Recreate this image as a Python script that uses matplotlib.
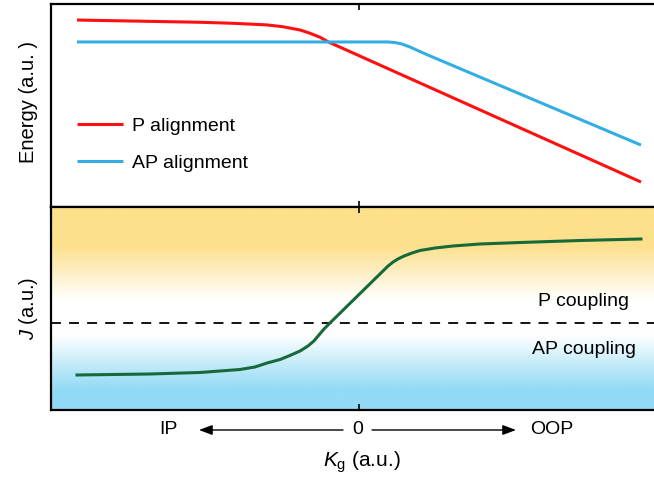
import numpy as np
import matplotlib
matplotlib.use("Agg")
import matplotlib.pyplot as plt
from matplotlib.colors import LinearSegmentedColormap

plt.rcParams['font.family'] = ['Liberation Sans', 'DejaVu Sans']
plt.rcParams['mathtext.fontset'] = 'custom'
plt.rcParams['mathtext.rm'] = 'Liberation Sans'
plt.rcParams['mathtext.it'] = 'Liberation Sans:italic'

# Energy of the two alignments versus Kg
kg_p = [-1.000, -0.801, -0.564, -0.447, -0.326, -0.270, -0.209, -0.174,
        -0.138, -0.110, 1.000]
energy_p = [0.921, 0.916, 0.910, 0.905, 0.897, 0.888, 0.872, 0.856,
            0.836, 0.814, 0.123]
kg_ap = [-1.000, 0.103, 0.128, 0.152, 0.181, 0.216, 0.252, 1.000]
energy_ap = [0.813, 0.813, 0.810, 0.803, 0.788, 0.766, 0.744, 0.305]

# Interlayer coupling J versus Kg
kg_j = [-1.000, -0.741, -0.564, -0.422, -0.369, -0.326, -0.280, -0.245,
        -0.209, -0.181, -0.160, -0.142, -0.124, -0.103, 0.085, 0.103,
        0.121, 0.138, 0.160, 0.188, 0.216, 0.270, 0.333, 0.429, 0.571,
        0.784, 1.000]
j_vals = [-0.52, -0.51, -0.495, -0.465, -0.44, -0.40, -0.365, -0.325,
          -0.28, -0.23, -0.18, -0.12, -0.06, 0.00, 0.52, 0.57,
          0.61, 0.64, 0.67, 0.70, 0.725, 0.75, 0.77, 0.79, 0.805,
          0.825, 0.84]

series_labels = ["P alignment", "AP alignment"]
region_labels = ["P coupling", "AP coupling"]
axis_labels = ["IP", "0", "OOP"]

RED = "#FF1010"
BLUE = "#33AEE3"
GREEN = "#17693A"
ORANGE = (253/255, 224/255, 140/255)
SKY = (146/255, 218/255, 245/255)

W, H = 654, 483
fig = plt.figure(figsize=(W/100, H/100), dpi=100)

left = 51 / W
width = 1.0 - left
ax1 = fig.add_axes([left, (H - 207) / H, width, 203 / H])
ax2 = fig.add_axes([left, (H - 410) / H, width, 203 / H])

xlim = (-308 / 282, 295 / 282)

for ax in (ax1, ax2):
    ax.set_xlim(*xlim)
    for s in ("left", "top", "bottom"):
        ax.spines[s].set_linewidth(1.6)
        ax.spines[s].set_color("black")
    ax.spines["right"].set_visible(False)
    ax.set_yticks([])
    ax.set_xticks([0])
    ax.tick_params(axis="x", direction="in", top=True, bottom=True,
                   length=4, width=1.2, labelbottom=False)

# Top panel: energies
ax1.set_ylim(0, 1)
ax1.plot(kg_p, energy_p, color=RED, lw=2.2, solid_capstyle="butt",
         solid_joinstyle="round", label=series_labels[0])
ax1.plot(kg_ap, energy_ap, color=BLUE, lw=2.2, solid_capstyle="butt",
         solid_joinstyle="round", label=series_labels[1])
ax1.legend(loc="center left", bbox_to_anchor=(26 / 603, (207 - 144.5) / 203),
           frameon=False, fontsize=14, handlelength=2.35, handletextpad=0.5,
           borderpad=0, borderaxespad=0, labelspacing=1.0)

# Bottom panel: coupling with shaded background (stops measured from the top)
jlo, jhi = (323 - 410) / 100, (323 - 207) / 100
ax2.set_ylim(jlo, jhi)
stops = [(0.0, ORANGE), ((245 - 207) / 203, ORANGE),
         ((300 - 207) / 203, (1, 1, 1)), ((335 - 207) / 203, (1, 1, 1)),
         ((390 - 207) / 203, SKY), (1.0, SKY)]
cmap = LinearSegmentedColormap.from_list("bg", stops)
grad = np.linspace(0, 1, 400).reshape(-1, 1)
ax2.imshow(grad, cmap=cmap, aspect="auto", extent=(xlim[0], xlim[1], jlo, jhi),
           origin="upper", zorder=0, vmin=0, vmax=1)
ax2.axhline(0, color="black", lw=1.3, ls=(0, (5.5, 4.5)), zorder=1)
ax2.plot(kg_j, j_vals, color=GREEN, lw=2.2, zorder=2, solid_joinstyle="round")

cx = (584 - 359) / 282
ax2.text(cx, 0.21, region_labels[0], fontsize=14, ha="center", va="center")
ax2.text(cx, -0.26, region_labels[1], fontsize=14, ha="center", va="center")

# Kg direction annotation under the bottom panel
tr = ax2.get_xaxis_transform()
ty = (410 - 430) / 203
ax2.text((168 - 359) / 282, ty, axis_labels[0], fontsize=14, ha="center",
         va="center", transform=tr)
ax2.text((358 - 359) / 282, ty, axis_labels[1], fontsize=14, ha="center",
         va="center", transform=tr)
ax2.text((552 - 359) / 282, ty, axis_labels[2], fontsize=14, ha="center",
         va="center", transform=tr)
arrow = dict(arrowstyle="-|>,head_length=0.8,head_width=0.3", lw=1.0,
             color="black", shrinkA=0, shrinkB=0)
ax2.annotate("", xy=((199 - 359) / 282, ty), xytext=((343 - 359) / 282, ty),
             xycoords=tr, textcoords=tr, arrowprops=arrow, annotation_clip=False)
ax2.annotate("", xy=((516 - 359) / 282, ty), xytext=((372 - 359) / 282, ty),
             xycoords=tr, textcoords=tr, arrowprops=arrow, annotation_clip=False)
ax2.text((362 - 359) / 282, (410 - 462) / 203, r"$K_{\mathrm{g}}$ (a.u.)",
         fontsize=15, ha="center", va="center", transform=tr)

fig.text(28 / W, (H - 102) / H, "Energy (a.u. )", rotation=90, fontsize=14.5,
         ha="center", va="center")
fig.text(29 / W, (H - 308) / H, r"$J$ (a.u.)", rotation=90, fontsize=14.5,
         ha="center", va="center")

fig.savefig("out.png", dpi=100)
